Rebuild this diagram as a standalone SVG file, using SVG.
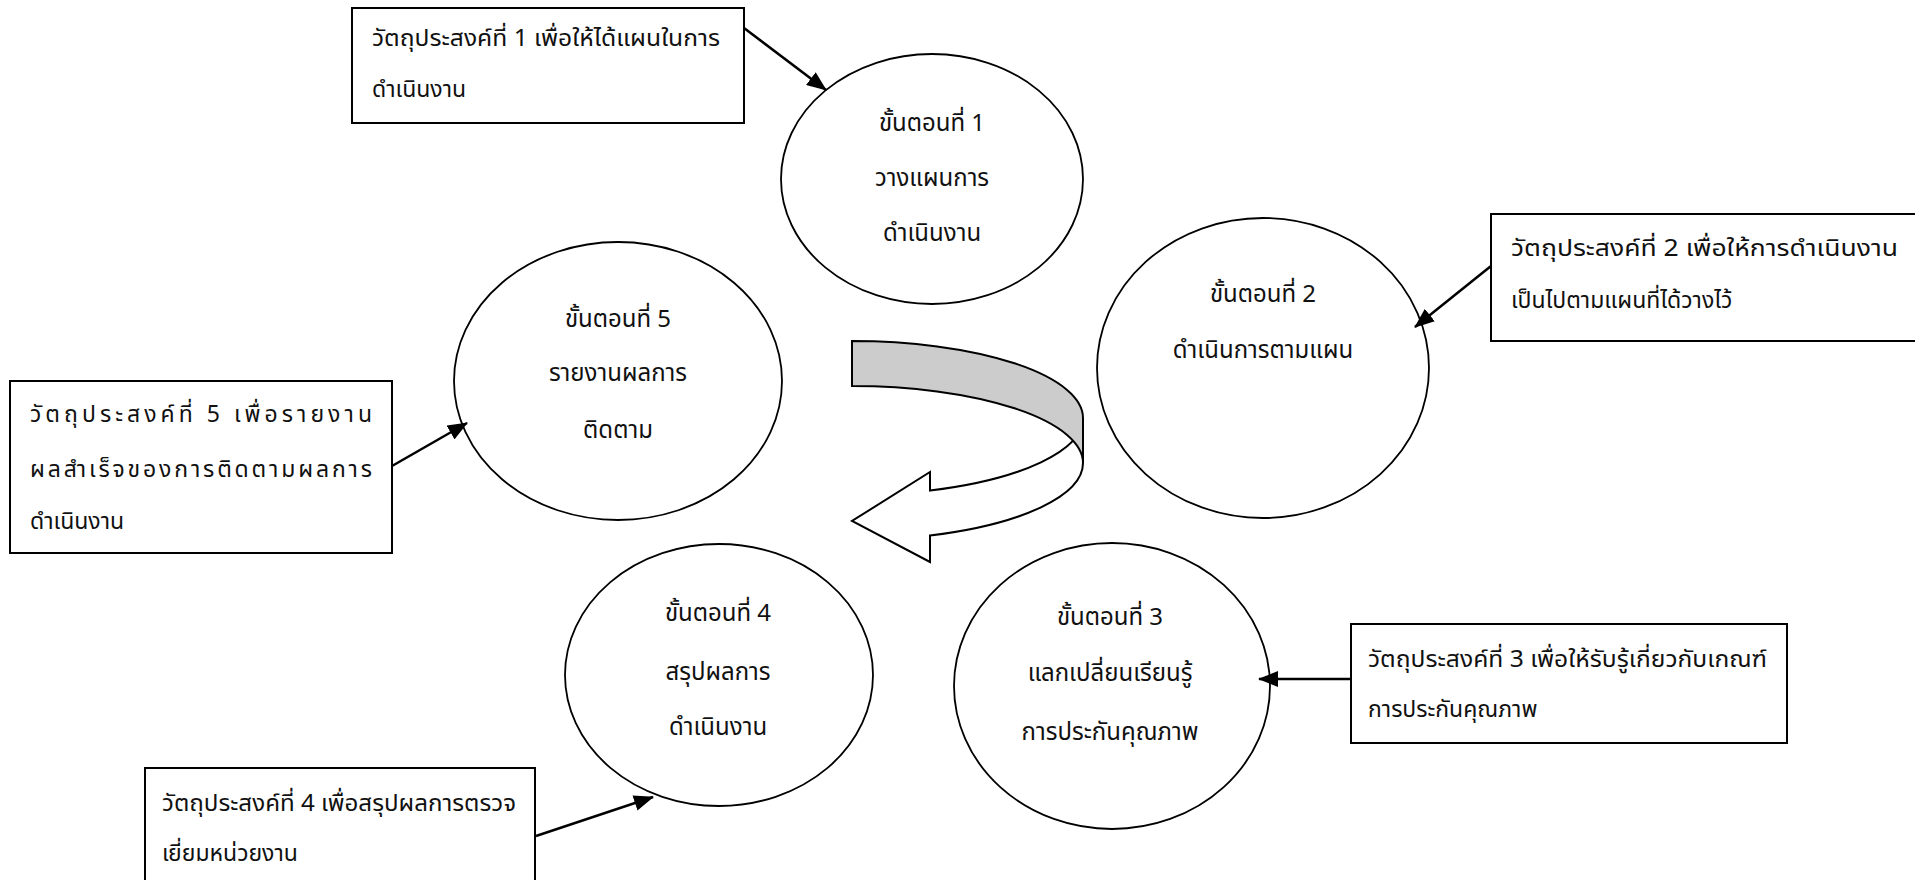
<svg xmlns="http://www.w3.org/2000/svg" width="1915" height="880" viewBox="0 0 1915 880">
<defs>
<marker id="ah" viewBox="0 0 20 16" refX="19" refY="8" markerWidth="20" markerHeight="16" markerUnits="userSpaceOnUse" orient="auto">
<path d="M0,0 L20,8 L0,16 Z" fill="#000"/>
</marker>
<style>
.bg{fill:#fff}
.box{fill:#fff;stroke:#000;stroke-width:2}
.ell{fill:#fff;stroke:#000;stroke-width:1.8}
.t{font-family:"Noto Sans Thai","Noto Sans","DejaVu Sans",sans-serif;font-size:23px;fill:#111}
.te{font-size:24px}
.tc{text-anchor:middle}
.con{stroke:#000;stroke-width:2.5;fill:none}
</style>
</defs>
<rect class="bg" x="0" y="0" width="1915" height="880"/>

<g id="cycle-arrow">
<path d="M1083,418 A231,77 0 0 1 930,490.5 L930,472 L852,521 L930,562 L930,535.5 A231,77 0 0 0 1083,463 Z" fill="#fff" stroke="#000" stroke-width="2"/>
<path d="M852,341 A231,77 0 0 1 1083,418 L1083,463 A231,77 0 0 0 852,386 Z" fill="#cccccc" stroke="#000" stroke-width="2"/>
</g>

<g id="step1">
<ellipse class="ell" cx="932" cy="179" rx="151" ry="125"/>
<text class="t te tc" x="932" y="131">ขั้นตอนที่ 1</text>
<text class="t te tc" x="932" y="186">วางแผนการ</text>
<text class="t te tc" x="932" y="241">ดำเนินงาน</text>
</g>
<g id="step2">
<ellipse class="ell" cx="1263" cy="368" rx="166" ry="150"/>
<text class="t te tc" x="1263" y="302">ขั้นตอนที่ 2</text>
<text class="t te tc" x="1263" y="358">ดำเนินการตามแผน</text>
</g>
<g id="step3">
<ellipse class="ell" cx="1112" cy="686" rx="158" ry="143"/>
<text class="t te tc" x="1110" y="625">ขั้นตอนที่ 3</text>
<text class="t te tc" x="1110" y="681">แลกเปลี่ยนเรียนรู้</text>
<text class="t te tc" x="1110" y="740">การประกันคุณภาพ</text>
</g>
<g id="step4">
<ellipse class="ell" cx="719" cy="675" rx="154" ry="131"/>
<text class="t te tc" x="718" y="621">ขั้นตอนที่ 4</text>
<text class="t te tc" x="718" y="680">สรุปผลการ</text>
<text class="t te tc" x="718" y="735">ดำเนินงาน</text>
</g>
<g id="step5">
<ellipse class="ell" cx="618" cy="381" rx="164" ry="139"/>
<text class="t te tc" x="618" y="327">ขั้นตอนที่ 5</text>
<text class="t te tc" x="618" y="381">รายงานผลการ</text>
<text class="t te tc" x="618" y="438">ติดตาม</text>
</g>

<g id="obj1">
<rect class="box" x="352" y="8" width="392" height="115"/>
<text class="t" x="372" y="46" textLength="348" lengthAdjust="spacingAndGlyphs">วัตถุประสงค์ที่ 1 เพื่อให้ได้แผนในการ</text>
<text class="t" x="372" y="97">ดำเนินงาน</text>
</g>
<g id="obj2">
<rect class="box" x="1491" y="214" width="430" height="127"/>
<text class="t" x="1511" y="256" textLength="387" lengthAdjust="spacingAndGlyphs">วัตถุประสงค์ที่ 2 เพื่อให้การดำเนินงาน</text>
<text class="t" x="1511" y="308">เป็นไปตามแผนที่ได้วางไว้</text>
</g>
<g id="obj3">
<rect class="box" x="1351" y="624" width="436" height="119"/>
<text class="t" x="1368" y="667" textLength="399" lengthAdjust="spacingAndGlyphs">วัตถุประสงค์ที่ 3 เพื่อให้รับรู้เกี่ยวกับเกณฑ์</text>
<text class="t" x="1368" y="717">การประกันคุณภาพ</text>
</g>
<g id="obj4">
<rect class="box" x="145" y="768" width="390" height="120"/>
<text class="t" x="162" y="811" textLength="354" lengthAdjust="spacingAndGlyphs">วัตถุประสงค์ที่ 4 เพื่อสรุปผลการตรวจ</text>
<text class="t" x="162" y="861">เยี่ยมหน่วยงาน</text>
</g>
<g id="obj5">
<rect class="box" x="10" y="381" width="382" height="172"/>
<text class="t" x="30" y="422" textLength="342" lengthAdjust="spacing">วัตถุประสงค์ที่ 5 เพื่อรายงาน</text>
<text class="t" x="30" y="477" textLength="342" lengthAdjust="spacing">ผลสำเร็จของการติดตามผลการ</text>
<text class="t" x="30" y="529">ดำเนินงาน</text>
</g>

<g id="connectors">
<line class="con" x1="744" y1="28" x2="826" y2="90" marker-end="url(#ah)"/>
<line class="con" x1="1491" y1="266" x2="1415" y2="327" marker-end="url(#ah)"/>
<line class="con" x1="1351" y1="679" x2="1259" y2="679" marker-end="url(#ah)"/>
<line class="con" x1="536" y1="836" x2="653" y2="797" marker-end="url(#ah)"/>
<line class="con" x1="392" y1="466" x2="467" y2="423" marker-end="url(#ah)"/>
</g>
</svg>
